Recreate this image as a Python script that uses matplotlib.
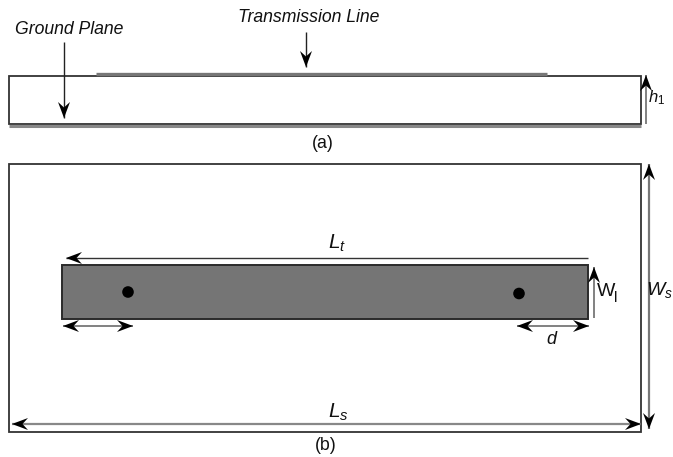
from __future__ import annotations

import matplotlib

matplotlib.use("Agg")
import matplotlib.pyplot as plt
import numpy as np
from matplotlib.patches import Circle, Polygon, Rectangle

WIDTH = 673
HEIGHT = 457

# all geometry in reference pixels
SUBSTRATE_A = (8.5, 76, 632, 48)
SUBSTRATE_B = (8.5, 164, 632.5, 268)
STRIP = (62, 265, 526, 54)
TRACE_X = [96, 547]
TRACE_Y = [73.5, 73.5]
GROUND_X = [9, 641]
GROUND_Y = [125.5, 125.5]
VIAS = [(128, 292), (519, 293.5)]

# (x0, y0, x1, y1, both ends, colour, line width)
ARROWS = [
    (64, 42, 64, 118, False, "#222222", 1.0),
    (306, 32, 306, 67, False, "#222222", 1.0),
    (646, 124, 646, 75, False, "#777777", 1.3),
    (588, 258, 66, 258, False, "#333333", 1.0),
    (594, 318, 594, 267, False, "#777777", 1.3),
    (63, 326, 133, 326, True, "#777777", 1.3),
    (517, 326, 589, 326, True, "#777777", 1.3),
    (649, 164, 649, 429, True, "#777777", 1.6),
    (12, 424, 641, 424, True, "#888888", 1.6),
]

# (x, y, text, size, style, align)
LABELS = [
    (69, 29, "Ground Plane", 12.7, "italic", "center"),
    (309, 18, "Transmission Line", 12.7, "italic", "center"),
    (323, 143, "(a)", 12.7, "normal", "center"),
    (326, 446, "(b)", 12.7, "normal", "center"),
    (337, 243, "$L_t$", 15, "normal", "center"),
    (338, 412, "$L_s$", 15, "normal", "center"),
    (552, 339, "$d$", 13, "normal", "center"),
    (672.5, 290, "$W_s$", 14, "normal", "right"),
    (657, 98, r"$h_{\mathit{1}}$", 12, "normal", "center"),
    (606, 292, "W", 14, "normal", "center"),
    (615.5, 298, "l", 11, "normal", "center"),
]


def draw_arrow(ax, start, end, color, lw, both=False):
    ax.plot(
        [start[0], end[0]],
        [start[1], end[1]],
        color=color,
        linewidth=lw,
        solid_capstyle="butt",
        zorder=3,
    )
    _draw_head(ax, start, end)
    if both:
        _draw_head(ax, end, start)


def _draw_head(ax, start, end, length=16.0, half=6.0, notch=10.5):
    # notched black head, as the drawing tool of the original made them
    tip = np.array(end, dtype=float)
    unit = tip - np.array(start, dtype=float)
    unit /= np.hypot(*unit)
    side = np.array([-unit[1], unit[0]])
    points = [tip, tip - length * unit + half * side, tip - notch * unit, tip - length * unit - half * side]
    ax.add_patch(Polygon(points, closed=True, facecolor="black", edgecolor="none", zorder=4))


def main() -> None:
    plt.rcParams["font.family"] = ["Liberation Sans", "DejaVu Sans"]
    plt.rcParams["mathtext.fontset"] = "custom"
    plt.rcParams["mathtext.it"] = "Liberation Sans:italic"
    plt.rcParams["mathtext.rm"] = "Liberation Sans"

    fig = plt.figure(figsize=(WIDTH / 100, HEIGHT / 100), dpi=100)
    ax = fig.add_axes([0, 0, 1, 1])
    ax.set_xlim(0, WIDTH)
    ax.set_ylim(HEIGHT, 0)
    ax.axis("off")

    ax.plot(TRACE_X, TRACE_Y, color="#777777", linewidth=2.4, solid_capstyle="butt")
    ax.plot(GROUND_X, GROUND_Y, color="#888888", linewidth=2.2, solid_capstyle="butt")
    for x, y, w, h in (SUBSTRATE_A, SUBSTRATE_B):
        ax.add_patch(Rectangle((x, y), w, h, fill=False, edgecolor="#333333", linewidth=1.3))

    x, y, w, h = STRIP
    ax.add_patch(Rectangle((x, y), w, h, facecolor="#757575", edgecolor="#2a2a2a", linewidth=1.4))
    for cx, cy in VIAS:
        ax.add_patch(Circle((cx, cy), 5.8, facecolor="black", edgecolor="none"))

    for x0, y0, x1, y1, both, color, lw in ARROWS:
        draw_arrow(ax, (x0, y0), (x1, y1), color, lw, both)

    for tx, ty, text, size, style, align in LABELS:
        ax.text(tx, ty, text, fontsize=size, fontstyle=style, ha=align, va="center", color="#111111")

    fig.savefig("out.png", dpi=100)
    plt.close(fig)


if __name__ == "__main__":
    main()
